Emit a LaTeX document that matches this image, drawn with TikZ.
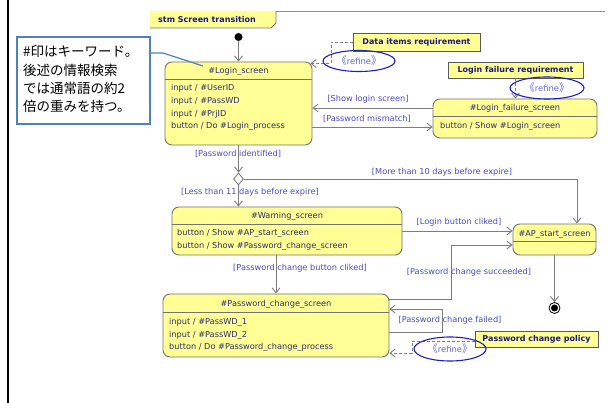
\documentclass[tikz,border=0pt]{standalone}
\usepackage{fontspec}
\setmainfont{DejaVu Sans}
\newfontfamily\jpfont{Noto Sans CJK JP}
\usetikzlibrary{arrows.meta,shapes.geometric}
\definecolor{stfill}{RGB}{255,255,150}
\definecolor{stborder}{RGB}{115,115,115}
\definecolor{sttext}{RGB}{45,45,110}
\definecolor{guardc}{RGB}{75,75,195}
\definecolor{notetext}{RGB}{25,25,125}
\definecolor{notedraw}{RGB}{90,90,90}
\definecolor{arrowc}{RGB}{125,125,125}
\definecolor{elc}{RGB}{30,30,200}
\definecolor{refc}{RGB}{105,105,220}
\definecolor{cblue}{RGB}{79,129,189}
\newcommand{\refinetext}{{\jpfont\fontsize{10.5}{10}\selectfont 《}refine{\jpfont\fontsize{10.5}{10}\selectfont 》}}
\begin{document}
\begin{tikzpicture}[x=1pt,y=-1pt,
  state/.style={draw=stborder, fill=stfill, rounded corners=7pt, line width=0.9pt, inner sep=0},
  sepline/.style={draw=stborder, line width=0.9pt},
  sttitle/.style={text=sttext, font=\fontsize{8.2}{10}\selectfont, inner sep=0},
  stbody/.style={text=sttext, font=\fontsize{8.2}{12.7}\selectfont, inner sep=0, align=left, anchor=north west},
  guard/.style={text=guardc, font=\fontsize{8.2}{10}\selectfont, inner sep=0},
  note/.style={draw=notedraw, fill=stfill, line width=0.9pt, inner sep=0, text=notetext, font=\bfseries\fontsize{8}{10}\selectfont},
  tr/.style={draw=arrowc, line width=0.9pt, -{Straight Barb[length=5pt,width=8pt]}},
  dep/.style={tr, dash pattern=on 3pt off 2pt},
  refel/.style={ellipse, draw=elc, line width=1.1pt, inner sep=0, text=refc, font=\fontsize{8.4}{10}\selectfont},
  cline/.style={draw=cblue, line width=1.2pt}
]
\useasboundingbox (0,0) rectangle (614,403);
\fill[white] (0,0) rectangle (614,403);
% frame
\draw[line width=2pt] (8,0) -- (8,403);
\fill[stfill] (150,11) -- (276,11) -- (276,23) -- (271,28) -- (150,28) -- cycle;
\draw[draw=stborder, line width=0.8pt] (150,28) -- (271,28) -- (276,23) -- (276,11);
\draw[draw=stborder!80, line width=0.8pt] (276,11) -- (605,11);
\node[text=notetext, font=\bfseries\fontsize{8}{10}\selectfont, inner sep=0] (tab) at (207,20) {stm Screen transition};

% comment
\node[draw=cblue, line width=1.2pt, fill=white, minimum width=133pt, minimum height=87pt, inner sep=0] (cmt) at (83.5,80.5) {};
\node[inner sep=0, anchor=north west, align=left, font=\jpfont\fontsize{13.5}{18.4}\selectfont] (cmtt) at (23,45.2)
  {\#印はキーワード。\\後述の情報検索\\では通常語の約2\\倍の重みを持つ。};

% states
\node[circle, fill=black, minimum size=8pt, inner sep=0] (init) at (238.5,37) {};

\node[state, minimum width=147pt, minimum height=83pt] (login) at (238.5,103.5) {};
\draw[sepline] ([yshift=-18pt]login.north west) -- ([yshift=-18pt]login.north east);
\node[sttitle] (logint) at (238.5,71) {\#Login\_screen};
\node[stbody] (loginb) at (171,84.4) {input / \#UserID\\input / \#PassWD\\input / \#PrjID\\button / Do \#Login\_process};

\node[state, minimum width=164pt, minimum height=39pt] (fail) at (515,118.5) {};
\draw[sepline] ([yshift=-18pt]fail.north west) -- ([yshift=-18pt]fail.north east);
\node[sttitle] (failt) at (515,108) {\#Login\_failure\_screen};
\node[stbody] (failb) at (440,122.4) {button / Show \#Login\_screen};

\node[diamond, draw=stborder, fill=white, line width=0.8pt, minimum width=10pt, minimum height=12pt, inner sep=0] (dec) at (238.5,179) {};

\node[state, minimum width=230pt, minimum height=48pt] (warn) at (287,231) {};
\draw[sepline] ([yshift=-18pt]warn.north west) -- ([yshift=-18pt]warn.north east);
\node[sttitle] (warnt) at (287,216.5) {\#Warning\_screen};
\node[stbody] (warnb) at (177,229.4) {button / Show \#AP\_start\_screen\\button / Show \#Password\_change\_screen};

\node[state, minimum width=83pt, minimum height=31pt] (ap) at (554.5,239.5) {};
\draw[sepline] ([yshift=-18pt]ap.north west) -- ([yshift=-18pt]ap.north east);
\node[sttitle] (apt) at (554.5,234) {\#AP\_start\_screen};

\node[state, minimum width=226pt, minimum height=63pt] (pc) at (276,325.5) {};
\draw[sepline] ([yshift=-19pt]pc.north west) -- ([yshift=-19pt]pc.north east);
\node[sttitle] (pct) at (276,304) {\#Password\_change\_screen};
\node[stbody, font=\fontsize{8.2}{12.5}\selectfont] (pcb) at (169,318.4) {input / \#PassWD\_1\\input / \#PassWD\_2\\button / Do \#Password\_change\_process};

\node[circle, draw=black, line width=0.8pt, fill=white, minimum size=11pt, inner sep=0] (fin) at (554.5,308) {};
\node[circle, fill=black, minimum size=7pt, inner sep=0] (finin) at (fin) {};

% transitions
\draw[tr] (init) -- (login);
\coordinate (ySL) at (0,108);
\coordinate (yPM) at (0,127);
\draw[tr] (fail.west |- ySL) -- (login.east |- ySL);
\draw[tr] (login.east |- yPM) -- (fail.west |- yPM);
\node[guard] (gSL) at (368,99) {[Show login screen]};
\node[guard] (gPM) at (367,119) {[Password mismatch]};

\draw[tr] (login) -- (dec);
\node[guard] (gPI) at (238,154) {[Password identified]};
\draw[tr] (dec) -- (dec |- warn.north);
\node[guard] (gLT) at (250,192) {[Less than 11 days before expire]};
\coordinate (apn) at ([xshift=22.5pt]ap.north);
\draw[tr] (dec.east) -| (apn);
\node[guard] (gMT) at (442,172) {[More than 10 days before expire]};

\draw[tr] (warn.east) -- (warn.east -| ap.west);
\node[guard] (gLB) at (459,222) {[Login button cliked]};
\draw[tr] (pc.north |- warn.south) -- (pc.north);
\node[guard] (gPB) at (300,268) {[Password change button cliked]};

\coordinate (s1) at (451,299);
\coordinate (apw) at ([yshift=-5.5pt]ap.west);
\draw[tr] (pc.east |- s1) -- (s1) |- (apw);
\node[guard] (gPS) at (469,272) {[Password change succeeded]};

\coordinate (f1) at (442,332);
\coordinate (f2) at (442,309);
\draw[tr] (pc.east |- f1) -- (f1) -- (f2) -- (pc.east |- f2);
\node[guard] (gPF) at (450,320) {[Password change failed]};

\draw[tr] (ap) -- (fin);

% requirements
\coordinate (d2) at (331,63.5);
\coordinate (le) at ([xshift=-2pt]login.north east);
\node[note, minimum width=127pt, minimum height=18pt] (dreq) at (416.5,42) {Data items requirement};
\draw[dep] (dreq.west) -| (d2) -- (le |- d2);
\node[refel, minimum width=72pt, minimum height=21pt] (ref1) at (359,61) {\refinetext};

\node[note, minimum width=135pt, minimum height=16pt] (lreq) at (515.5,70) {Login failure requirement};
\draw[dep] (lreq.south) -- (lreq.south |- fail.north);
\node[refel, minimum width=74pt, minimum height=22pt] (ref2) at (547,88) {\refinetext};

\coordinate (p1) at (412,341);
\coordinate (p2) at (412,353);
\draw[dep] (475,341) -- (p1) -- (p2) -- (pc.east |- p2);
\node[note, minimum width=123pt, minimum height=16pt] (preq) at (536.5,339) {Password change policy};
\node[refel, minimum width=72pt, minimum height=24pt] (ref3) at (450,349) {\refinetext};

% comment connector
\coordinate (cm1) at (163,53);
\coordinate (cm2) at (203,66);
\draw[cline] (cmt.east |- cm1) -- (cm1) -- (cm2);
\end{tikzpicture}
\end{document}
